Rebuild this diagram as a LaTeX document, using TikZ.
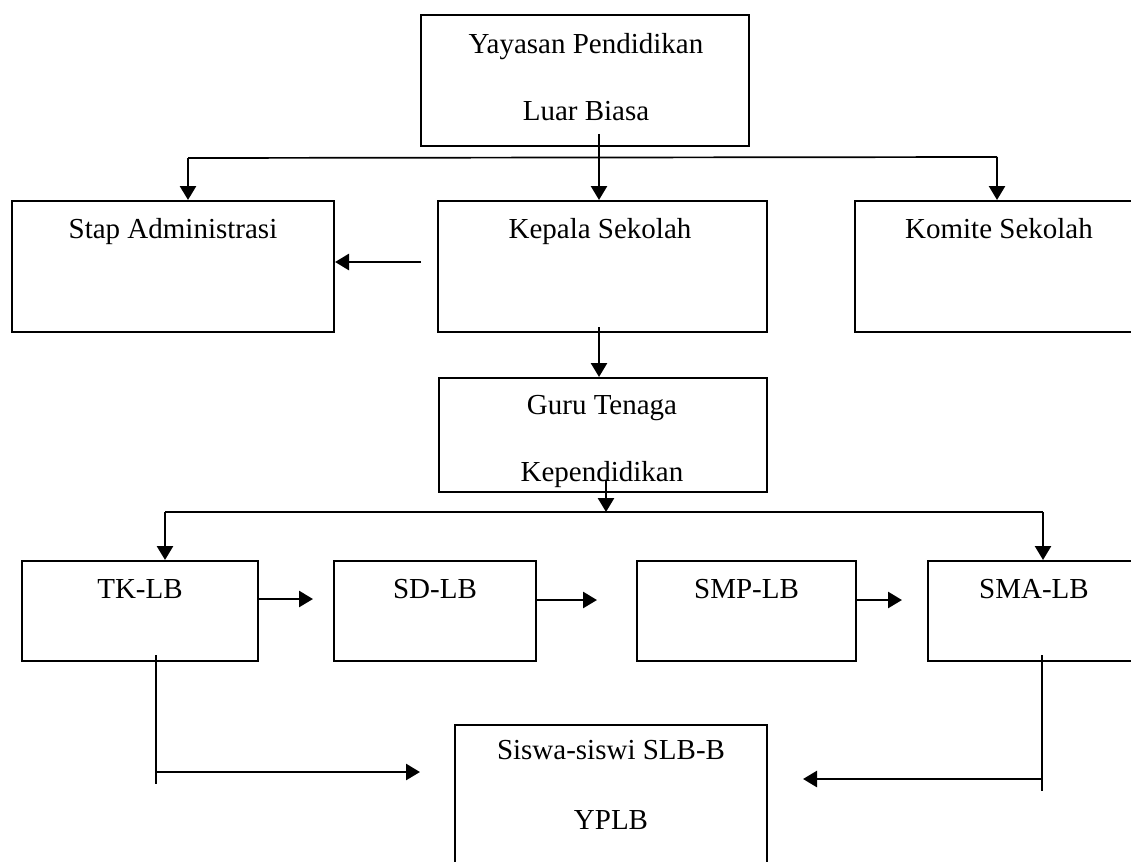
\documentclass[tikz,border=0pt]{standalone}
\usepackage{fontspec}
\setmainfont{Liberation Serif}
\usetikzlibrary{arrows.meta}

\tikzset{
  kotak/.style={draw, line width=2pt, minimum height=131pt, inner sep=0pt},
  tulisan/.style={font=\fontsize{29}{67}\selectfont, inner sep=0pt, align=center},
  panah/.style={line width=2.6pt, -{Triangle[width=16pt,length=14pt]}},
  garis/.style={line width=1.7pt}
}

\begin{document}
\begin{tikzpicture}[x=1pt,y=-1pt]
\clip (0,0) rectangle (1131,861);
% kotak-kotak
\node[name=yayasan, kotak, minimum width=328pt] at (585,80.5) {};
\node[name=stap, kotak, minimum width=322pt] at (173,266.5) {};
\node[name=kepala, kotak, minimum width=329pt] at (602.5,266.5) {};
\node[name=komite, kotak, minimum width=288pt] at (999,266.5) {};
\node[name=guru, kotak, minimum width=328pt, minimum height=114pt] at (603,435) {};
\node[name=siswa, kotak, minimum width=312pt, minimum height=160pt] at (611,805) {};
\foreach \nama/\px/\lebar/\teks in {tk/140/236/TK-LB, sd/435/202/SD-LB, smp/746.5/219/SMP-LB, sma/1034/212/SMA-LB}
{
  \node[name=\nama, kotak, minimum width=\lebar pt, minimum height=100pt] at (\px,611) {};
  \node[name=\nama-teks, tulisan, anchor=base] at (\px,598) {\teks};
}
% tulisan
\node[name=yayasan-teks, tulisan, anchor=north] at (586,33) {Yayasan Pendidikan\\Luar Biasa};
\node[name=stap-teks, tulisan, anchor=base] at (173,238) {Stap Administrasi};
\node[name=kepala-teks, tulisan, anchor=base] at (600,238) {Kepala Sekolah};
\node[name=komite-teks, tulisan, anchor=base] at (999,238) {Komite Sekolah};
\node[name=guru-teks, tulisan, anchor=north] at (602,395) {Guru Tenaga\\Kependidikan};
\node[name=siswa-teks, tulisan, font=\fontsize{29}{70}\selectfont, anchor=north] at (611,740) {Siswa-siswi SLB-B\\YPLB};
% garis atas
\coordinate (atas-kiri) at (188,158);
\coordinate (atas-kanan) at (997,157);
\coordinate (yayasan-bawah) at (599,134);
\draw[garis] (atas-kiri) -- (atas-kanan);
\draw[panah] (atas-kiri) -- (atas-kiri |- stap.north);
\draw[panah] (atas-kanan) -- (atas-kanan |- komite.north);
\draw[panah] (yayasan-bawah) -- (yayasan-bawah |- kepala.north);
\coordinate (kepala-kiri) at (421,262);
\coordinate (kepala-bawah) at (599,327);
\draw[panah] (kepala-kiri) -- (kepala-kiri -| stap.east);
\draw[panah] (kepala-bawah) -- (kepala-bawah |- guru.north);
% garis tengah
\coordinate (guru-bawah) at (606,480);
\coordinate (tengah) at (606,512);
\coordinate (bawah-kiri) at (165,512);
\coordinate (bawah-kanan) at (1043,512);
\draw[panah] (guru-bawah) -- (tengah);
\draw[garis] (bawah-kiri) -- (bawah-kanan);
\draw[panah] (bawah-kiri) -- (bawah-kiri |- tk.north);
\draw[panah] (bawah-kanan) -- (bawah-kanan |- sma.north);
\foreach \dari/\ujung/\py in {tk/313/599, sd/597/600, smp/902/600}
  \draw[panah] (\dari.east |- 0,\py) -- (\ujung,\py);
% ke siswa
\coordinate (tk-turun) at (156,655);
\coordinate (tk-belok) at (156,772);
\coordinate (ke-siswa-kiri) at (420,772);
\draw[garis] (tk-turun) -- (156,784);
\draw[panah] (tk-belok) -- (ke-siswa-kiri);
\coordinate (sma-turun) at (1042,655);
\coordinate (sma-belok) at (1042,779);
\coordinate (ke-siswa-kanan) at (803,779);
\draw[garis] (sma-turun) -- (1042,791);
\draw[panah] (sma-belok) -- (ke-siswa-kanan);
\end{tikzpicture}
\end{document}
